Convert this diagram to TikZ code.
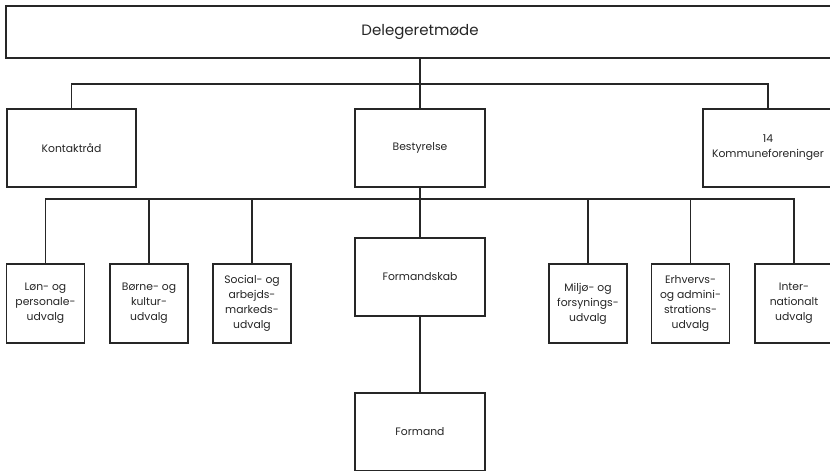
\documentclass[tikz,border=0pt]{standalone}
\usepackage{fontspec}
\setmainfont{Poppins}
\begin{document}
\begin{tikzpicture}[x=1pt,y=-1pt,
  line width=1.1pt,
  box/.style={draw=black!85, line width=1.1pt, rectangle, inner sep=0pt, align=center,
    text=black!85, font=\fontsize{10.8}{15}\selectfont},
  bigbox/.style={box, minimum width=130pt, minimum height=78pt},
  smallbox/.style={box, minimum width=78pt, minimum height=79pt},
  conn/.style={draw=black!85, line width=1.1pt}]
\useasboundingbox (0,0) rectangle (830,471);
\clip (0,0) rectangle (830,471);
\fill[white] (0,0) rectangle (830,471);
\node[box, minimum width=828pt, minimum height=52pt, font=\fontsize{15}{18}\selectfont] (del) at (420,32) {Delegeretmøde};
\node[bigbox, minimum width=129pt] (kon) at (71.5,148) {Kontaktråd};
\node[bigbox] (bes) at (420,148) {Bestyrelse};
\node[bigbox] (kom) at (768,148) {14\\Kommuneforeninger};
\node[bigbox] (fsk) at (420,277) {Formandskab};
\node[bigbox] (fmd) at (420,432) {Formand};
\node[smallbox] (l1) at (45.5,303.5) {Løn- og\\personale-\\udvalg};
\node[smallbox] (l2) at (149,303.5) {Børne- og\\kultur-\\udvalg};
\node[smallbox] (l3) at (252,303.5) {Social- og\\arbejds-\\markeds-\\udvalg};
\node[smallbox] (l4) at (588,303.5) {Miljø- og\\forsynings-\\udvalg};
\node[smallbox] (l5) at (690.5,303.5) {Erhvervs-\\og admini-\\strations-\\udvalg};
\node[smallbox] (l6) at (794,303.5) {Inter-\\nationalt\\udvalg};
\coordinate (bus1) at (420,84);
\coordinate (bus2) at (420,199);
\draw[conn] (del.south) -- (bes.north);
\draw[conn] (kon.north) |- (bus1) -| (kom.north);
\draw[conn] (bes.south) -- (fsk.north);
\draw[conn] (fsk.south) -- (fmd.north);
\draw[conn] (l1.north) |- (bus2) -| (l6.north);
\draw[conn] (bus2 -| l2.north) -- (l2.north);
\draw[conn] (bus2 -| l3.north) -- (l3.north);
\draw[conn] (bus2 -| l4.north) -- (l4.north);
\draw[conn] (bus2 -| l5.north) -- (l5.north);
\end{tikzpicture}
\end{document}
